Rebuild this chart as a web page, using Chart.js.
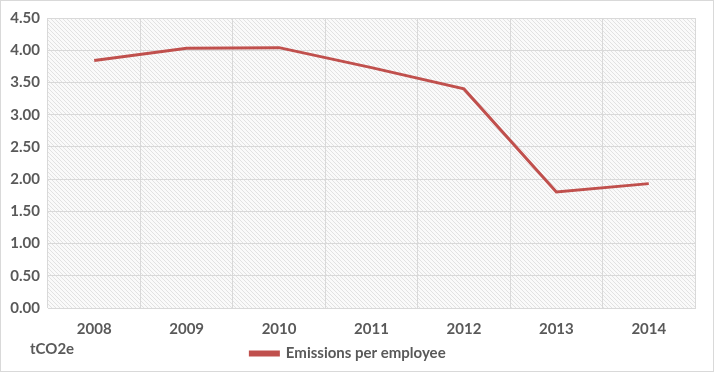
<!DOCTYPE html>
<html>
<head>
<meta charset="utf-8">
<script src="https://cdn.jsdelivr.net/npm/chart.js@4"></script>
<style>
  body { margin: 0; background: #fff; }
  .box { width: 712px; height: 370px; border: 1px solid #d9d9d9; position: relative; }
</style>
</head>
<body>
<div class="box"><canvas id="chart" width="712" height="370"></canvas></div>
<script>
const years = ['2008', '2009', '2010', '2011', '2012', '2013', '2014']
const emissions = [3.84, 4.03, 4.04, 3.73, 3.40, 1.80, 1.93]
const yTicks = [0, 0.5, 1, 1.5, 2, 2.5, 3, 3.5, 4, 4.5]

const grey = '#595959'
const font = { family: 'Lato, "Open Sans", sans-serif', size: 15, weight: 'bold' }

// diagonal hatch for the plot area
function hatch() {
    const c = document.createElement('canvas')
    c.width = 4
    c.height = 4
    const x = c.getContext('2d')
    x.fillStyle = '#fafafa'
    x.fillRect(0, 0, 4, 4)
    x.fillStyle = '#e2e2e2'
    for (let i = 0; i < 4; i++) x.fillRect(i, i, 1, 1)
    return x.createPattern(c, 'repeat')
}

const plotBg = {
    id: 'plotBg',
    beforeDraw(chart) {
        const { ctx, chartArea: a } = chart
        ctx.save()
        ctx.fillStyle = hatch()
        ctx.fillRect(a.left, a.top, a.right - a.left, a.bottom - a.top)
        ctx.restore()
    },
    afterDraw(chart) {
        const ctx = chart.ctx
        ctx.save()
        ctx.font = 'bold 15px Lato, "Open Sans", sans-serif'
        ctx.fillStyle = grey
        ctx.textBaseline = 'middle'
        ctx.fillText('tCO2e', 29, 348)
        ctx.restore()
    }
}

const ctx = document.getElementById('chart')
new Chart(ctx, {
    type: 'line',
    plugins: [plotBg],
    data: {
        labels: years,
        datasets: [{
            label: 'Emissions per employee',
            data: emissions,
            borderColor: '#c0504d',
            backgroundColor: '#c0504d',
            borderWidth: 3,
            pointRadius: 0,
            tension: 0
        }]
    },
    options: {
        animation: false,
        responsive: false,
        layout: { padding: { left: 0, right: 18, top: 17, bottom: 0 } },
        plugins: {
            legend: {
                position: 'bottom',
                labels: { color: grey, font: font, boxWidth: 28, boxHeight: 3, padding: 6 }
            },
            tooltip: { enabled: false }
        },
        scales: {
            x: {
                offset: true,
                grid: { color: '#d9d9d9', offset: true, drawTicks: false },
                border: { color: '#d9d9d9' },
                ticks: { color: grey, font: font, padding: 12 },
                afterFit(s) { s.height = 32 }
            },
            y: {
                min: 0,
                max: 4.5,
                afterBuildTicks(s) { s.ticks = yTicks.map(v => ({ value: v })) },
                grid: { color: '#d9d9d9', drawTicks: false },
                border: { display: false },
                ticks: {
                    color: grey, font: font, padding: 8,
                    callback: v => v.toFixed(2)
                },
                afterFit(s) { s.width = 47 }
            }
        }
    }
})
</script>
</body>
</html>
